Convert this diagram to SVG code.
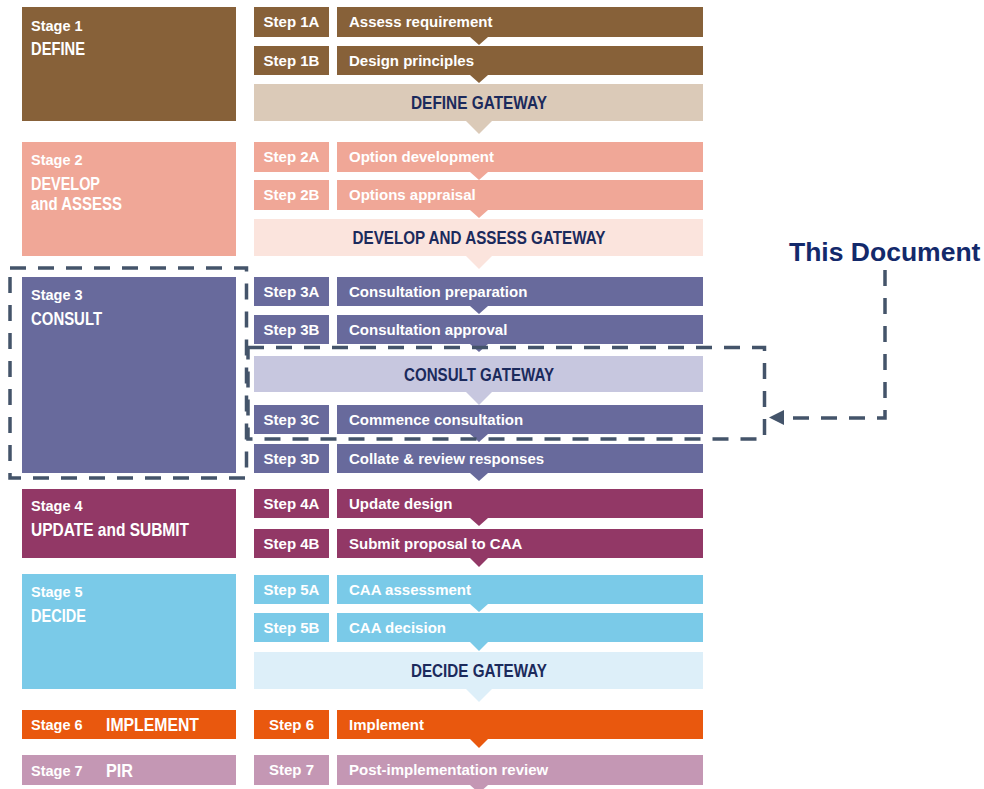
<svg xmlns="http://www.w3.org/2000/svg" width="984" height="789" viewBox="0 0 984 789">
<style>
text{font-family:"Liberation Sans",Arial,sans-serif;font-weight:bold}
.w{fill:#ffffff}
.st{font-size:14.5px}
.sh{font-size:19px}
.lb{font-size:15px;text-anchor:middle}
.ds{font-size:15px}
.gw{font-size:19px;fill:#1B2A5C;text-anchor:middle}
.c1{fill:#876139}.g1{fill:#DBCAB8}
.c2{fill:#F0A797}.g2{fill:#FBE4DD}
.c3{fill:#686A9C}.g3{fill:#C7C7DF}
.c4{fill:#923866}
.c5{fill:#7ACAE8}.g5{fill:#DDEFF9}
.c6{fill:#E9580E}
.c7{fill:#C497B4}
.dash{fill:none;stroke:#44546A;stroke-width:3.5;stroke-dasharray:16 12}
</style>
<rect width="984" height="789" fill="#ffffff"/>

<!-- Stage boxes -->
<g id="stage1"><rect class="c1" x="22" y="7" width="214" height="114"/><text class="w st" x="31" y="31">Stage 1</text><text class="w sh" x="31" y="55" textLength="54" lengthAdjust="spacingAndGlyphs">DEFINE</text></g>
<g id="stage2"><rect class="c2" x="22" y="142" width="214" height="114"/><text class="w st" x="31" y="165">Stage 2</text><text class="w sh" x="31" y="190" textLength="69" lengthAdjust="spacingAndGlyphs">DEVELOP</text><text class="w sh" x="31" y="210" textLength="91" lengthAdjust="spacingAndGlyphs">and ASSESS</text></g>
<g id="stage3"><rect class="c3" x="22" y="277" width="214" height="196"/><text class="w st" x="31" y="300">Stage 3</text><text class="w sh" x="31" y="325" textLength="71" lengthAdjust="spacingAndGlyphs">CONSULT</text></g>
<g id="stage4"><rect class="c4" x="22" y="489" width="214" height="69"/><text class="w st" x="31" y="511">Stage 4</text><text class="w sh" x="31" y="536" textLength="158" lengthAdjust="spacingAndGlyphs">UPDATE and SUBMIT</text></g>
<g id="stage5"><rect class="c5" x="22" y="574" width="214" height="115"/><text class="w st" x="31" y="597">Stage 5</text><text class="w sh" x="31" y="622" textLength="55" lengthAdjust="spacingAndGlyphs">DECIDE</text></g>
<g id="stage6"><rect class="c6" x="22" y="710" width="214" height="29"/><text class="w st" x="31" y="730">Stage 6</text><text class="w sh" x="106" y="731" textLength="93" lengthAdjust="spacingAndGlyphs">IMPLEMENT</text></g>
<g id="stage7"><rect class="c7" x="22" y="755" width="214" height="30"/><text class="w st" x="31" y="776">Stage 7</text><text class="w sh" x="106" y="777" textLength="27" lengthAdjust="spacingAndGlyphs">PIR</text></g>

<!-- Steps -->
<g id="step1A"><rect class="c1" x="254" y="7" width="75" height="30"/><rect class="c1" x="337" y="7" width="366" height="30"/><polygon class="c1" points="470,37 488,37 479,45"/><text class="w lb" x="291.5" y="27">Step 1A</text><text class="w ds" x="349" y="27">Assess requirement</text></g>
<g id="step1B"><rect class="c1" x="254" y="46" width="75" height="29"/><rect class="c1" x="337" y="46" width="366" height="29"/><polygon class="c1" points="470,75 488,75 479,83"/><text class="w lb" x="291.5" y="66">Step 1B</text><text class="w ds" x="349" y="66">Design principles</text></g>
<g id="gateway1"><rect class="g1" x="254" y="84" width="449" height="37"/><polygon class="g1" points="466,121 492,121 479,134"/><text class="gw" x="479" y="109" textLength="136" lengthAdjust="spacingAndGlyphs">DEFINE GATEWAY</text></g>

<g id="step2A"><rect class="c2" x="254" y="142" width="75" height="30"/><rect class="c2" x="337" y="142" width="366" height="30"/><polygon class="c2" points="470,172 488,172 479,180"/><text class="w lb" x="291.5" y="162">Step 2A</text><text class="w ds" x="349" y="162">Option development</text></g>
<g id="step2B"><rect class="c2" x="254" y="180" width="75" height="30"/><rect class="c2" x="337" y="180" width="366" height="30"/><polygon class="c2" points="470,210 488,210 479,218"/><text class="w lb" x="291.5" y="200">Step 2B</text><text class="w ds" x="349" y="200">Options appraisal</text></g>
<g id="gateway2"><rect class="g2" x="254" y="219" width="449" height="37"/><polygon class="g2" points="466,256 492,256 479,269"/><text class="gw" x="479" y="244" textLength="253" lengthAdjust="spacingAndGlyphs">DEVELOP AND ASSESS GATEWAY</text></g>

<g id="step3A"><rect class="c3" x="254" y="277" width="75" height="29"/><rect class="c3" x="337" y="277" width="366" height="29"/><polygon class="c3" points="470,306 488,306 479,314"/><text class="w lb" x="291.5" y="297">Step 3A</text><text class="w ds" x="349" y="297">Consultation preparation</text></g>
<g id="step3B"><rect class="c3" x="254" y="315" width="75" height="29"/><rect class="c3" x="337" y="315" width="366" height="29"/><polygon class="c3" points="470,344 488,344 479,352"/><text class="w lb" x="291.5" y="335">Step 3B</text><text class="w ds" x="349" y="335">Consultation approval</text></g>
<g id="gateway3"><rect class="g3" x="254" y="356" width="449" height="36"/><polygon class="g3" points="466,392 492,392 479,405"/><text class="gw" x="479" y="381" textLength="150" lengthAdjust="spacingAndGlyphs">CONSULT GATEWAY</text></g>
<g id="step3C"><rect class="c3" x="254" y="405" width="75" height="29"/><rect class="c3" x="337" y="405" width="366" height="29"/><polygon class="c3" points="470,434 488,434 479,442"/><text class="w lb" x="291.5" y="425">Step 3C</text><text class="w ds" x="349" y="425">Commence consultation</text></g>
<g id="step3D"><rect class="c3" x="254" y="444" width="75" height="29"/><rect class="c3" x="337" y="444" width="366" height="29"/><polygon class="c3" points="470,473 488,473 479,481"/><text class="w lb" x="291.5" y="464">Step 3D</text><text class="w ds" x="349" y="464">Collate &amp; review responses</text></g>

<g id="step4A"><rect class="c4" x="254" y="489" width="75" height="29"/><rect class="c4" x="337" y="489" width="366" height="29"/><polygon class="c4" points="470,518 488,518 479,526"/><text class="w lb" x="291.5" y="509">Step 4A</text><text class="w ds" x="349" y="509">Update design</text></g>
<g id="step4B"><rect class="c4" x="254" y="529" width="75" height="29"/><rect class="c4" x="337" y="529" width="366" height="29"/><polygon class="c4" points="470,558 488,558 479,567"/><text class="w lb" x="291.5" y="549">Step 4B</text><text class="w ds" x="349" y="549">Submit proposal to CAA</text></g>

<g id="step5A"><rect class="c5" x="254" y="575" width="75" height="29"/><rect class="c5" x="337" y="575" width="366" height="29"/><polygon class="c5" points="470,604 488,604 479,612"/><text class="w lb" x="291.5" y="595">Step 5A</text><text class="w ds" x="349" y="595">CAA assessment</text></g>
<g id="step5B"><rect class="c5" x="254" y="613" width="75" height="29"/><rect class="c5" x="337" y="613" width="366" height="29"/><polygon class="c5" points="470,642 488,642 479,651"/><text class="w lb" x="291.5" y="633">Step 5B</text><text class="w ds" x="349" y="633">CAA decision</text></g>
<g id="gateway5"><rect class="g5" x="254" y="652" width="449" height="37"/><polygon class="g5" points="466,689 492,689 479,702"/><text class="gw" x="479" y="677" textLength="136" lengthAdjust="spacingAndGlyphs">DECIDE GATEWAY</text></g>

<g id="step6"><rect class="c6" x="254" y="710" width="75" height="29"/><rect class="c6" x="337" y="710" width="366" height="29"/><polygon class="c6" points="470,739 488,739 479,748"/><text class="w lb" x="291.5" y="730">Step 6</text><text class="w ds" x="349" y="730">Implement</text></g>
<g id="step7"><rect class="c7" x="254" y="755" width="75" height="30"/><rect class="c7" x="337" y="755" width="366" height="30"/><polygon class="c7" points="470,785 488,785 479,793"/><text class="w lb" x="291.5" y="775">Step 7</text><text class="w ds" x="349" y="775">Post-implementation review</text></g>

<!-- Annotation -->
<g id="thisDocument"><text x="789" y="261" font-size="26.5" fill="#13296B">This Document</text></g>

<g id="connectors">
<rect class="dash" x="10" y="268" width="236.5" height="210"/>
<rect class="dash" x="248" y="347.5" width="516.5" height="91.5"/>
<path class="dash" d="M885,270 V418 H786"/>
<polygon points="769,417.5 784,410 784,425" fill="#44546A"/>
</g>
</svg>
